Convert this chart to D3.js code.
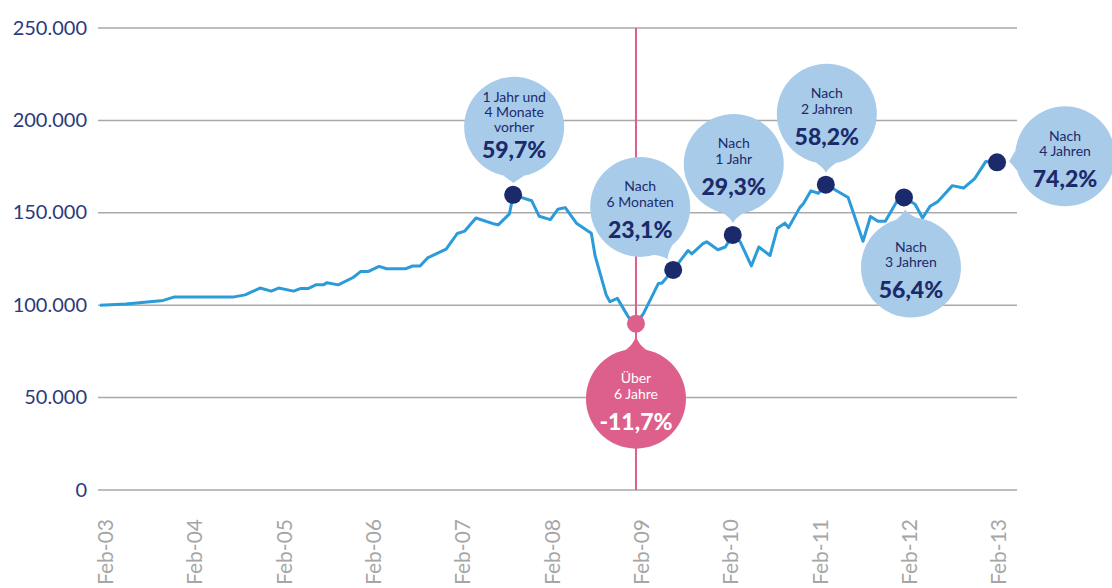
<!DOCTYPE html>
<html>
<head>
<meta charset="utf-8">
<script src="https://cdn.jsdelivr.net/npm/d3@7"></script>
<style>
  html, body { margin: 0; padding: 0; background: #ffffff; }
  svg { display: block; }
</style>
</head>
<body>
<svg id="chart" width="1112" height="588"></svg>
<script>
// ---------------- DATA ----------------
// months since Feb-2003
const months = [0,3.5,8.5,10,18,19.5,21.5,23,24,26,27,28,29,30,30.5,32,34,35,36,37.5,38.5,41,42,43,44,46.5,48,49,50.5,53,53.5,55,55.5,58,59,60.5,61.5,62.5,64,66,66.5,68,68.5,69.5,71,72,73,75,75.5,77,79,79.5,81,81.5,83,84,85,86,87.5,88.5,90,91,92,92.5,94,94.5,95.5,96.5,97.5,98.5,100.5,102.5,103.5,104.5,105.5,107,108,109.5,110.5,111.5,112.5,114.5,116,117.5,119,120.5];
const values = [100000,100600,102600,104500,104500,105600,109300,107600,109300,107600,109100,109100,111000,111000,112200,111000,115000,118200,118200,121000,119700,119700,121200,121200,125600,130300,138800,140100,147200,143900,143500,149400,159700,156500,148100,146300,151900,152800,144400,138900,126900,105600,101900,103700,93500,90000,95400,111700,112000,119100,129600,127800,133300,134300,130000,131500,138000,134300,121300,131500,126900,141700,144400,142000,152800,155000,161900,160600,165200,163000,158300,134600,148000,145400,145400,155900,158300,154600,147200,153500,155900,164700,163400,168500,177800,177300];

const xTickMonths = [0,12,24,36,48,60,72,84,96,108,120];
const xTickLabels = ["Feb-03","Feb-04","Feb-05","Feb-06","Feb-07","Feb-08","Feb-09","Feb-10","Feb-11","Feb-12","Feb-13"];
const yTicks = [0,50000,100000,150000,200000,250000];

// annotated points (months since Feb-2003)
const annoMonths = [55.5, 77, 85, 97.5, 108, 120.5];
const annoLines = [
  ["1 Jahr und","4 Monate","vorher"],
  ["Nach","6 Monaten"],
  ["Nach","1 Jahr"],
  ["Nach","2 Jahren"],
  ["Nach","3 Jahren"],
  ["Nach","4 Jahren"]
];
const annoPct = ["59,7%","23,1%","29,3%","58,2%","56,4%","74,2%"];

const lowMonth = 72;
const lowLines = ["Über","6 Jahre"];
const lowPct = "-11,7%";

// ---------------- LAYOUT (bubble offsets from their point) ----------------
const bubbleOffsets = [[1,-68],[-33,-63],[1,-71],[1,-71],[7,70],[68,-6]];
const lowOffset = [0,75];

// ---------------- DRAW ----------------
const svg = d3.select("#chart");
const x = d3.scaleLinear().domain([0,120]).range([100, 993.3]);
const y = d3.scaleLinear().domain([0,250000]).range([490, 28]);
const FONT = "Lato, 'Open Sans', sans-serif";

const de = d3.formatLocale({decimal:",", thousands:".", grouping:[3], currency:["","€"]});
const fmt = de.format(",");

const GRID_X0 = 98, GRID_X1 = 1017;

// gridlines + y labels
const yAxis = d3.axisLeft(y).tickValues(yTicks).tickFormat(fmt).tickSize(0).tickPadding(0);
const yg = svg.append("g").attr("transform", `translate(87,0)`).call(yAxis);
yg.select(".domain").remove();
yg.selectAll("text")
  .attr("font-family", FONT).attr("font-size", 20).attr("fill", "#2c3a7c")
  .attr("text-anchor","end").attr("x", 0).attr("dy","0.3em");

svg.append("g").selectAll("line").data(yTicks).join("line")
  .attr("x1", GRID_X0).attr("x2", GRID_X1)
  .attr("y1", d => y(d)).attr("y2", d => y(d))
  .attr("stroke", "#a9a9a9").attr("stroke-width", 1.5);

// x labels
const xAxis = d3.axisBottom(x).tickValues(xTickMonths)
  .tickFormat((d,i) => xTickLabels[i]).tickSize(0).tickPadding(0);
const xg = svg.append("g").attr("transform", `translate(0,519)`).call(xAxis);
xg.select(".domain").remove();
xg.selectAll("text")
  .attr("font-family", FONT).attr("font-size", 21).attr("fill", "#a6a6a6")
  .attr("text-anchor","end")
  .attr("transform","rotate(-90)")
  .attr("x", 0).attr("y", 0).attr("dy","0.6em");

// pink vertical line
const PINK = "#dd5f8b";
svg.append("line")
  .attr("x1", x(lowMonth)).attr("x2", x(lowMonth))
  .attr("y1", y(250000)).attr("y2", y(0))
  .attr("stroke", PINK).attr("stroke-width", 2);

// main line
const pts = months.map((m,i) => [m, values[i]]);
svg.append("path").datum(pts)
  .attr("fill","none").attr("stroke","#2b9bd9").attr("stroke-width",3)
  .attr("stroke-linejoin","round")
  .attr("d", d3.line().x(d => x(d[0])).y(d => y(d[1])));

function valueAt(m){ return values[months.indexOf(m)]; }

// bubble drawing
function bubble(g, cx, cy, r, tx, ty, fill){
  const a = Math.atan2(ty-cy, tx-cx);
  const spread = 0.21;
  const b1 = [cx + r*Math.cos(a-spread), cy + r*Math.sin(a-spread)];
  const b2 = [cx + r*Math.cos(a+spread), cy + r*Math.sin(a+spread)];
  const ux = Math.cos(a), uy = Math.sin(a);
  const px = -uy, py = ux;
  const cr = r + 4;
  const c1 = [cx + ux*cr - px*2.5, cy + uy*cr - py*2.5];
  const c2 = [cx + ux*cr + px*2.5, cy + uy*cr + py*2.5];
  const p = d3.path();
  p.moveTo(b1[0], b1[1]);
  p.quadraticCurveTo(c1[0], c1[1], tx, ty);
  p.quadraticCurveTo(c2[0], c2[1], b2[0], b2[1]);
  p.closePath();
  g.append("path").attr("d", p.toString()).attr("fill", fill);
  g.append("circle").attr("cx", cx).attr("cy", cy).attr("r", r).attr("fill", fill);
}

function bubbleText(g, cx, cy, lines, pct, color){
  const starts = lines.length === 3 ? -25 : -15.5;
  const step = lines.length === 3 ? 15 : 15.5;
  lines.forEach((t,i) => {
    g.append("text").attr("x", cx).attr("y", cy + starts + i*step)
      .attr("text-anchor","middle").attr("font-family", FONT)
      .attr("font-size", 14).attr("fill", color).text(t);
  });
  g.append("text").attr("x", cx).attr("y", cy + 31)
    .attr("text-anchor","middle").attr("font-family", FONT)
    .attr("font-weight", 900).attr("font-size", 23).attr("fill", color).text(pct);
}

const DOT_R = 9;
const BUBBLE_R = 50;
const BLUE_BUB = "#a8cbea";
const NAVY = "#1c2a6a";

const bg = svg.append("g");
annoMonths.forEach((m,i) => {
  const dx = x(m), dy = y(valueAt(m));
  const cx = dx + bubbleOffsets[i][0], cy = dy + bubbleOffsets[i][1];
  const dist = Math.hypot(dx-cx, dy-cy);
  const tipD = dist - DOT_R - 3;
  const tx = cx + (dx-cx)/dist*tipD, ty = cy + (dy-cy)/dist*tipD;
  bubble(bg, cx, cy, BUBBLE_R, tx, ty, BLUE_BUB);
  bubbleText(bg, cx, cy, annoLines[i], annoPct[i], NAVY);
});

// low (pink) bubble
{
  const dx = x(lowMonth), dy = y(valueAt(lowMonth));
  const cx = dx + lowOffset[0], cy = dy + lowOffset[1];
  const dist = Math.hypot(dx-cx, dy-cy);
  const tipD = dist - DOT_R - 3;
  const tx = cx + (dx-cx)/dist*tipD, ty = cy + (dy-cy)/dist*tipD;
  bubble(bg, cx, cy, BUBBLE_R, tx, ty, PINK);
  bubbleText(bg, cx, cy, lowLines, lowPct, "#ffffff");
}

// dots
svg.append("g").selectAll("circle").data(annoMonths).join("circle")
  .attr("cx", m => x(m)).attr("cy", m => y(valueAt(m)))
  .attr("r", DOT_R).attr("fill", "#1b2a6b");
svg.append("circle")
  .attr("cx", x(lowMonth)).attr("cy", y(valueAt(lowMonth)))
  .attr("r", DOT_R).attr("fill", PINK);
</script>
</body>
</html>
